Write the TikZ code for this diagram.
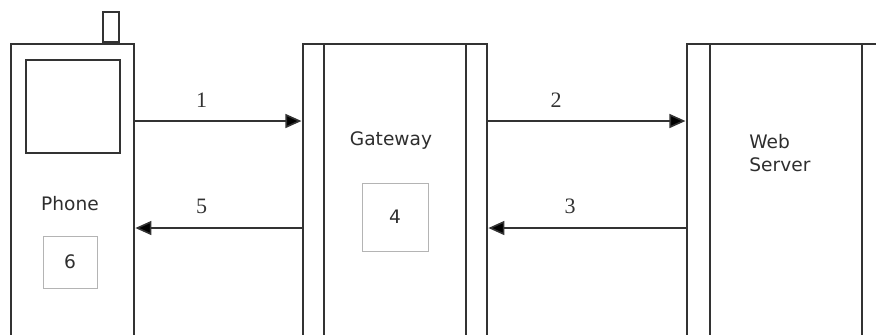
\documentclass[tikz,border=0pt]{standalone}
\usepackage{fontspec}
\setmainfont{Liberation Serif}
\setsansfont{DejaVu Sans}
\usetikzlibrary{arrows.meta,positioning}
\definecolor{edgegray}{HTML}{333333}
\definecolor{boxgray}{HTML}{B4B4B4}
\definecolor{textgray}{HTML}{2E2E2E}
\tikzset{
  >=Triangle,
  unit/.style={rectangle, draw=edgegray, line width=0.9pt, anchor=north west, minimum height=170pt, inner sep=0pt},
  part/.style={rectangle, draw=edgegray, line width=0.9pt, anchor=north west, inner sep=0pt},
  slot/.style={rectangle, draw=boxgray, line width=0.5pt, minimum width=27pt, minimum height=26pt,
    font=\sffamily\fontsize{9.3}{11}\selectfont, text=textgray},
  unitname/.style={font=\sffamily\fontsize{9.3}{11.5}\selectfont, text=textgray, align=left, inner sep=0pt},
  msg/.style={->, edgegray, line width=0.8pt, shorten >=0.3pt, >={Triangle[length=8pt,width=7pt,fill=black]}},
  step label/.style={font=\fontsize{11}{12}\selectfont, text=edgegray, inner sep=0pt, above=6.5pt}
}
\begin{document}
\begin{tikzpicture}[x=0.5pt,y=-0.5pt]
\useasboundingbox (0,0) rectangle (876,334);
\clip (0,0) rectangle (876,334);
\node[unit, minimum width=61.5pt] (phone) at (10,43) {};
\node[part, minimum width=8pt, minimum height=15pt, anchor=south west] (antenna) at (102,43) {};
\node[part, minimum width=47pt, minimum height=46.5pt] (screen) at (25,59) {};
\node[unitname] (phonename) at (70,204) {Phone};
\node[slot] (six) at (70,262) {6};
\node[unit, minimum width=92pt] (gw) at (302,43) {};
\draw[edgegray, line width=0.9pt] ([xshift=11pt]gw.north west) -- ([xshift=11pt]gw.south west);
\draw[edgegray, line width=0.9pt] ([xshift=-11pt]gw.north east) -- ([xshift=-11pt]gw.south east);
\node[unitname] (gwname) at (391,141) {Gateway};
\node[slot, minimum width=33pt, minimum height=34pt] (four) at (395,217) {4};
\node[unit, minimum width=100pt] (srv) at (686,43) {};
\draw[edgegray, line width=0.9pt] ([xshift=12pt]srv.north west) -- ([xshift=12pt]srv.south west);
\draw[edgegray, line width=0.9pt] ([xshift=88pt]srv.north west) -- ([xshift=88pt]srv.south west);
\node[unitname, anchor=west] (srvname) at (749,153) {Web\\Server};
\coordinate (req) at (0,121);
\coordinate (resp) at (0,228);
\draw[msg] (phone.east |- req) -- (gw.west |- req) node[step label, pos=0.4] (one) {1};
\draw[msg] (gw.east |- req) -- (srv.west |- req) node[step label, pos=0.345] (two) {2};
\draw[msg] (srv.west |- resp) -- (gw.east |- resp) node[step label, pos=0.585] (three) {3};
\draw[msg] (gw.west |- resp) -- (phone.east |- resp) node[step label, pos=0.6] (five) {5};
\end{tikzpicture}
\end{document}
